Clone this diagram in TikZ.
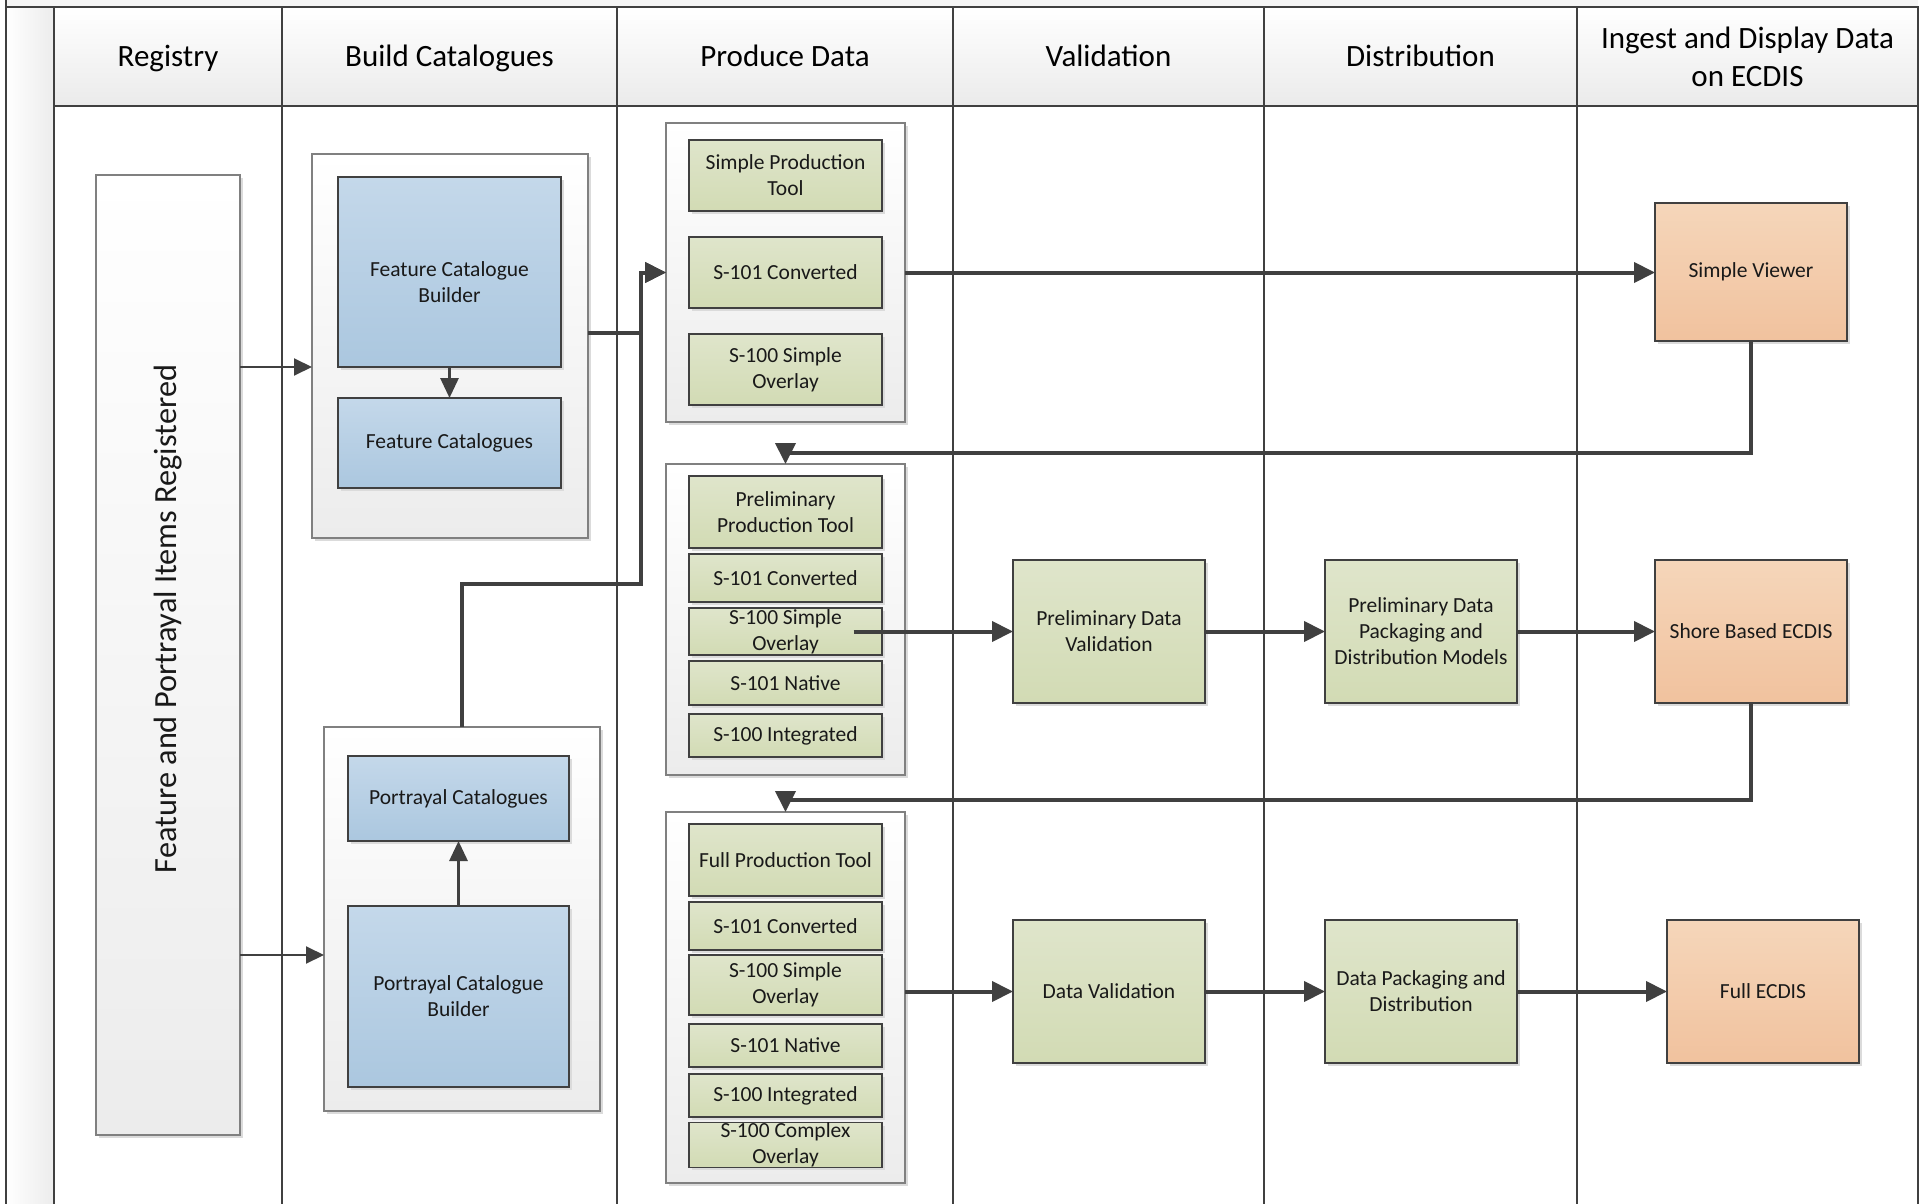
\documentclass[tikz,border=0pt]{standalone}
\usepackage{fontspec}
\setmainfont{Carlito}
\usepackage{graphicx}
\usetikzlibrary{arrows.meta,positioning,shadows}

\definecolor{linedark}{HTML}{404040}
\definecolor{holderline}{HTML}{808080}
\definecolor{holderbot}{HTML}{ECECEC}
\definecolor{bluetop}{HTML}{C4D8EA}
\definecolor{bluebot}{HTML}{ABC7DF}
\definecolor{greentop}{HTML}{DFE5CB}
\definecolor{greenbot}{HTML}{D2DBB4}
\definecolor{orangetop}{HTML}{F5D6BA}
\definecolor{orangebot}{HTML}{F1C29E}

\newcommand{\boxfont}{\fontsize{21.5}{26}\selectfont}
\newcommand{\headfont}{\fontsize{31}{38}\selectfont}
\newcommand{\regfont}{\fontsize{32.3}{38}\selectfont}

\begin{document}
\begin{tikzpicture}[x=1pt,y=-1pt,>={Triangle[length=21pt,width=20pt]},line join=miter]
\tikzstyle{laneline}=[draw=linedark, line width=2pt]
\tikzstyle{lanehead}=[draw=linedark, line width=2pt, top color=white, bottom color=gray!16, font=\headfont, align=center, inner sep=0pt, minimum height=99pt]
\tikzstyle{onelinehead}=[lanehead, text height=21pt, text depth=0pt]
\tikzstyle{box}=[draw=linedark, line width=1.3pt, text=black!90, align=center, inner sep=0pt, outer sep=0pt, font=\boxfont, drop shadow={shadow xshift=3pt, shadow yshift=-3pt, fill=black!14, opacity=1}]
\tikzstyle{holder}=[box, draw=holderline, line width=1.5pt, top color=white, bottom color=holderbot]
\tikzstyle{bluebox}=[box, top color=bluetop, bottom color=bluebot]
\tikzstyle{greenbox}=[box, top color=greentop, bottom color=greenbot, minimum width=193pt]
\tikzstyle{orangebox}=[box, top color=orangetop, bottom color=orangebot, minimum width=192pt, minimum height=143pt]
\tikzstyle{conn}=[->, color=linedark, line width=4pt]
\tikzstyle{midconn}=[->, color=linedark, line width=3pt, >={Triangle[length=20pt,width=18pt]}]
\tikzstyle{thinconn}=[->, color=linedark, line width=2pt, >={Triangle[length=18pt,width=17pt]}]

\useasboundingbox (0,0) rectangle (1923,1204);
\fill[gray!8] (6,0) rectangle (1918,7);
\shade[left color=white, right color=gray!15] (6,7) rectangle (54,1204);
\draw[laneline] (6,0) -- (6,1204);
\draw[laneline] (6,7) -- (1918,7);
\foreach \x in {54,282,617,953,1264,1577,1918}
  \draw[laneline] (\x,7) -- (\x,1204);

\node[onelinehead, minimum width=228pt] (hreg)  at (168,56.5)    {Registry};
\node[onelinehead, minimum width=335pt] (hbuild) at (449.5,56.5) {Build Catalogues};
\node[onelinehead, minimum width=336pt] (hprod) at (785,56.5)    {Produce Data};
\node[onelinehead, minimum width=311pt] (hval)  at (1108.5,56.5) {Validation};
\node[onelinehead, minimum width=313pt] (hdist) at (1420.5,56.5) {Distribution};
\node[lanehead, minimum width=341pt] (hecdis) at (1747.5,56.5) {Ingest and Display Data\\on ECDIS};

\node[holder, font=\regfont, minimum width=144pt, minimum height=960pt] (reg) at (168,655) {\rotatebox{90}{\hspace*{72pt}Feature and Portrayal Items Registered}};

\node[holder, minimum width=276pt, minimum height=384pt] (fcont) at (450,346) {};
\node[bluebox, minimum width=223pt, minimum height=190pt] (fcb) at (449.5,272) {\rule{0pt}{36pt}Feature Catalogue\\Builder};
\node[bluebox, minimum width=223pt, minimum height=90pt] (fcat) [below of=fcb, node distance=171pt] {Feature Catalogues};

\node[holder, minimum width=276pt, minimum height=384pt] (pcont) at (462,919) {};
\node[bluebox, minimum width=221pt, minimum height=85pt] (pcat) at (458.5,798.5) {Portrayal Catalogues};
\node[bluebox, minimum width=221pt, minimum height=181pt] (pcb) [below of=pcat, node distance=198pt] {Portrayal Catalogue\\Builder};

\node[holder, minimum width=239pt, minimum height=299pt] (pcont1) at (785.5,272.5) {};
\node[greenbox, minimum height=71pt] (spt) at (785.5,175.5) {Simple Production\\Tool};
\node[greenbox, minimum height=71pt] (s101c1) [below of=spt, node distance=97pt] {S-101 Converted};
\node[greenbox, minimum height=71pt] (s100so1) [below of=s101c1, node distance=97pt] {S-100 Simple\\Overlay};

\node[holder, minimum width=239pt, minimum height=311pt] (pcont2) at (785.5,619.5) {};
\node[greenbox, minimum height=72pt] (ppt) at (785.5,512) {Preliminary\\Production Tool};
\node[greenbox, minimum height=48pt] (s101c2) [below of=ppt, node distance=66pt] {S-101 Converted};
\node[greenbox, minimum height=47pt] (s100so2) [below of=s101c2, node distance=53.5pt] {S-100 Simple\\Overlay};
\node[greenbox, minimum height=44pt] (s101n2) [below of=s100so2, node distance=51.5pt] {S-101 Native};
\node[greenbox, minimum height=43pt] (s100i2) [below of=s101n2, node distance=52.5pt] {S-100 Integrated};

\node[holder, minimum width=239pt, minimum height=371pt] (pcont3) at (785.5,997.5) {};
\node[greenbox, minimum height=72pt] (fpt) at (785.5,860) {Full Production Tool};
\node[greenbox, minimum height=48pt] (s101c3) [below of=fpt, node distance=66pt] {S-101 Converted};
\node[greenbox, minimum height=60pt] (s100so3) [below of=s101c3, node distance=59pt] {S-100 Simple\\Overlay};
\node[greenbox, minimum height=43pt] (s101n3) [below of=s100so3, node distance=60.5pt] {S-101 Native};
\node[greenbox, minimum height=43pt] (s100i3) [below of=s101n3, node distance=50pt] {S-100 Integrated};
\node[greenbox, minimum height=44pt] (s100co3) [below of=s100i3, node distance=49.5pt] {S-100 Complex\\Overlay};

\node[greenbox, minimum width=192pt, minimum height=143pt] (pdv) at (1109,631.5) {Preliminary Data\\Validation};
\node[greenbox, minimum width=192pt, minimum height=143pt] (pdp) [right of=pdv, node distance=312pt] {Preliminary Data\\Packaging and\\Distribution Models};
\node[orangebox] (sbe) [right of=pdp, node distance=330pt] {Shore Based ECDIS};

\node[greenbox, minimum width=192pt, minimum height=143pt] (dv) at (1109,991.5) {Data Validation};
\node[greenbox, minimum width=192pt, minimum height=143pt] (dp) [right of=dv, node distance=312pt] {Data Packaging and\\Distribution};
\node[orangebox] (fe) [right of=dp, node distance=342pt] {Full ECDIS};

\node[orangebox, minimum height=138pt] (sv) at (1751,272) {Simple Viewer};

\coordinate (pin) at ([yshift=-36pt]pcont.west);

\path[thinconn]
(reg.east |- fcb.south) edge (fcont.west |- fcb.south)
(reg.east |- pin) edge (pin)
;
\path[midconn]
(fcb) edge (fcat)
(pcb) edge (pcat)
;
\draw[conn] ([yshift=13pt]fcont.east) -- ++(53,0) |- (pcont1.west);
\draw[conn] (pcont.north) |- (641,584) |- (pcont1.west);
\draw[conn] (sv.south) -- ++(0,112) -| (pcont2.north);
\draw[conn] (sbe.south) -- ++(0,97) -| (pcont3.north);
\path[conn]
(pcont1.east) edge (pcont1.east -| sv.west)
([xshift=68pt]s100so2.center) edge (pdv.west)
(pdv) edge (pdp)
(pdp) edge (sbe)
(pcont3.east |- dv.west) edge (dv.west)
(dv) edge (dp)
(dp) edge (fe)
;
\end{tikzpicture}
\end{document}
